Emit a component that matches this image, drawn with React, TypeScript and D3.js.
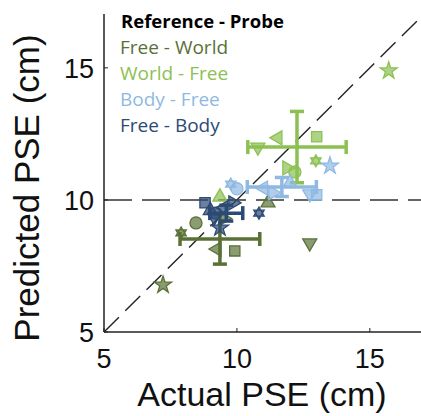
import React from "react";
import * as d3 from "d3";

// ---- data ----
const conditions = ["Free - World", "World - Free", "Body - Free", "Free - Body"];
const colors = ["#5a7136", "#8cc152", "#8fb9e3", "#2c4a74"];
const markerShapes = ["star", "hexagram", "circle", "left", "square", "down", "up", "right"];

const freeWorldX = [7.22, 7.9, 8.46, 9.25, 9.92, 12.74, 11.17, 9.5];
const freeWorldY = [6.78, 8.75, 9.13, 8.14, 8.07, 8.37, 9.89, 9.3];
const worldFreeX = [15.71, 12.97, 12.18, 11.54, 13.0, 10.79, 9.36, 11.88];
const worldFreeY = [14.89, 11.48, 11.06, 12.35, 12.39, 12.0, 10.11, 11.21];
const bodyFreeX = [13.5, 9.77, 10.0, 11.0, 13.0, 12.74, 12.0, 11.35];
const bodyFreeY = [11.29, 10.6, 10.42, 10.45, 10.19, 10.23, 10.64, 10.27];
const freeBodyX = [9.36, 10.83, 9.2, 9.5, 8.8, 9.15, 9.0, 9.85];
const freeBodyY = [8.94, 9.5, 9.5, 9.7, 9.89, 9.35, 9.6, 9.89];

const meanX = [9.36, 12.26, 11.69, 9.6];
const meanY = [8.52, 12.0, 10.49, 9.5];
const errX = [1.5, 1.85, 1.3, 0.62];
const errY = [0.95, 1.35, 0.36, 0.3];

const tickValues = [5, 10, 15];

const pointsX = [freeWorldX, worldFreeX, bodyFreeX, freeBodyX];
const pointsY = [freeWorldY, worldFreeY, bodyFreeY, freeBodyY];

const W = 421, H = 416;
const x = d3.scaleLinear().domain([5, 17]).range([104, 423]);
const y = d3.scaleLinear().domain([5, 17]).range([332, 15]);

function markerPath(shape: string): { d: string; rot: number } {
  const tri = d3.symbol().type(d3.symbolTriangle).size(85)() as string;
  switch (shape) {
    case "star":
      return { d: d3.symbol().type(d3.symbolStar).size(90)() as string, rot: 0 };
    case "circle":
      return { d: d3.symbol().type(d3.symbolCircle).size(115)() as string, rot: 0 };
    case "square":
      return { d: d3.symbol().type(d3.symbolSquare).size(105)() as string, rot: 0 };
    case "up":
      return { d: tri, rot: 0 };
    case "down":
      return { d: tri, rot: 180 };
    case "left":
      return { d: tri, rot: -90 };
    case "right":
      return { d: tri, rot: 90 };
    case "hexagram": {
      const r = 6;
      const p = (a: number) => [r * Math.sin(a), -r * Math.cos(a)];
      const t1 = [0, 120, 240].map((a) => p((a * Math.PI) / 180));
      const t2 = [60, 180, 300].map((a) => p((a * Math.PI) / 180));
      const s = (t: number[][]) => "M" + t.map((q) => q.join(",")).join("L") + "Z";
      return { d: s(t1) + s(t2), rot: 0 };
    }
  }
  return { d: "", rot: 0 };
}

export default function App() {
  const cap = 7;
  return (
    <svg width={W} height={H} style={{ position: "absolute", left: 0, top: 0, background: "#fff" }}>
      {/* reference lines */}
      <line x1={x(5)} y1={y(5)} x2={x(17)} y2={y(17)} stroke="#222" strokeWidth={1.4} strokeDasharray="21 9" />
      <line x1={x(5)} y1={y(10)} x2={W} y2={y(10)} stroke="#333" strokeWidth={1.5} strokeDasharray="28 10" />

      {/* axes */}
      <line x1={x(5)} y1={14} x2={x(5)} y2={y(5)} stroke="#222" strokeWidth={1.5} />
      <line x1={x(5)} y1={y(5)} x2={W} y2={y(5)} stroke="#222" strokeWidth={1.5} />
      {tickValues.map((t) => (
        <g key={"t" + t}>
          <line x1={x(t)} x2={x(t)} y1={y(5)} y2={y(5) - 4} stroke="#222" strokeWidth={1} />
          <line x1={x(5)} x2={x(5) + 4} y1={y(t)} y2={y(t)} stroke="#222" strokeWidth={1} />
          <text x={x(t)} y={y(5) + 36} textAnchor="middle" fontFamily="Liberation Sans, Arial" fontSize={27} fill="#111">
            {t}
          </text>
          <text x={x(5) - 10} y={y(t) + 10} textAnchor="end" fontFamily="Liberation Sans, Arial" fontSize={27} fill="#111">
            {t}
          </text>
        </g>
      ))}
      <text x={262} y={406} textAnchor="middle" fontFamily="Liberation Sans, Arial" fontSize={34} fill="#111">
        Actual PSE (cm)
      </text>
      <text
        transform={`translate(39,188) rotate(-90)`}
        textAnchor="middle"
        fontFamily="Liberation Sans, Arial"
        fontSize={35}
        fill="#111"
      >
        Predicted PSE (cm)
      </text>

      {/* data */}
      {conditions.map((c, ci) => {
        const col = colors[ci];
        const mx = x(meanX[ci]), my = y(meanY[ci]);
        const x0 = x(meanX[ci] - errX[ci]), x1 = x(meanX[ci] + errX[ci]);
        const y0 = y(meanY[ci] - errY[ci]), y1 = y(meanY[ci] + errY[ci]);
        return (
          <g key={c}>
            {pointsX[ci].map((px, i) => {
              const m = markerPath(markerShapes[i]);
              return (
                <path
                  key={i}
                  d={m.d}
                  transform={`translate(${x(px)},${y(pointsY[ci][i])}) rotate(${m.rot})`}
                  fill={col}
                  fillOpacity={0.7}
                  stroke={col}
                  strokeWidth={1.3}
                />
              );
            })}
            <g stroke={col} strokeWidth={3.5} fill="none">
              <line x1={x0} x2={x1} y1={my} y2={my} />
              <line x1={mx} x2={mx} y1={y0} y2={y1} />
              <line x1={x0} x2={x0} y1={my - cap} y2={my + cap} />
              <line x1={x1} x2={x1} y1={my - cap} y2={my + cap} />
              <line x1={mx - cap} x2={mx + cap} y1={y0} y2={y0} />
              <line x1={mx - cap} x2={mx + cap} y1={y1} y2={y1} />
            </g>
          </g>
        );
      })}

      {/* legend */}
      <g fontFamily="Open Sans, Noto Sans, sans-serif">
        <text x={121} y={28} fontWeight="bold" fontSize={18.5} fill="#000">
          Reference - Probe
        </text>
        {conditions.map((c, ci) => (
          <text key={c} x={120} y={54 + ci * 26} fontSize={19} fill={colors[ci]}>
            {c}
          </text>
        ))}
      </g>
    </svg>
  );
}
